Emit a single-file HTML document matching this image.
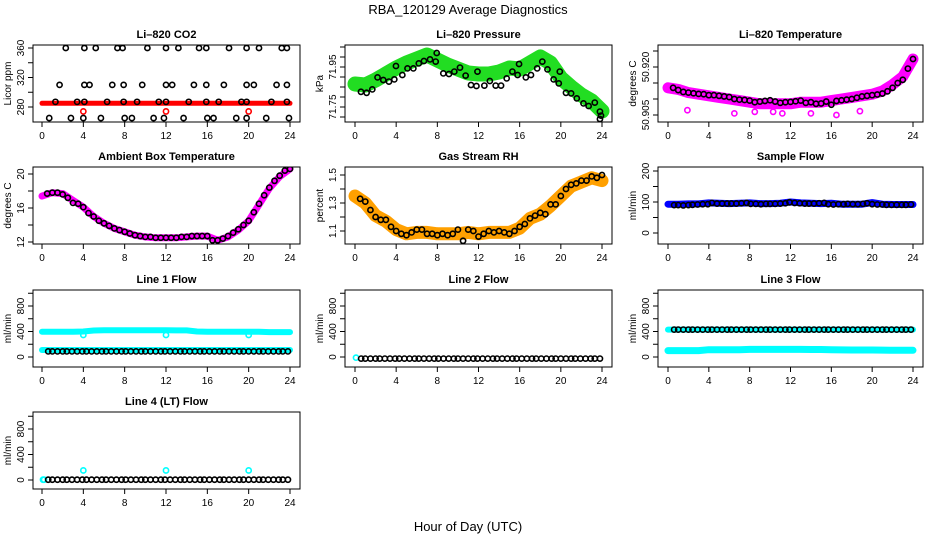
<!DOCTYPE html>
<html><head><meta charset="utf-8">
<style>
html,body{margin:0;padding:0;background:#fff;}
svg{display:block;font-family:"Liberation Sans",Arial,sans-serif;}
</style></head>
<body>
<svg id="chart" width="936" height="540" viewBox="0 0 936 540">
<rect x="0" y="0" width="936" height="540" fill="#fff"/>
<text x="468" y="14" text-anchor="middle" font-size="13">RBA_120129  Average Diagnostics</text>
<text x="468" y="531" text-anchor="middle" font-size="13">Hour of Day (UTC)</text>
</svg>
<script>
// ---------- data ----------
const xTicks = [0,4,8,12,16,20,24];
const bandHours = [0,1,2,3,4,5,6,7,8,9,10,11,12,13,14,15,16,17,18,19,20,21,22,23,24];
const halfHours = [0.5,1,1.5,2,2.5,3,3.5,4,4.5,5,5.5,6,6.5,7,7.5,8,8.5,9,9.5,10,10.5,11,11.5,12,12.5,13,13.5,14,14.5,15,15.5,16,16.5,17,17.5,18,18.5,19,19.5,20,20.5,21,21.5,22,22.5,23,23.5,24];
const flowHours = [0.6,1.0,1.5,2.0,2.4,2.9,3.4,3.9,4.3,4.8,5.3,5.8,6.2,6.7,7.2,7.7,8.1,8.6,9.1,9.6,10.0,10.5,11.0,11.5,11.9,12.4,12.9,13.4,13.8,14.3,14.8,15.3,15.7,16.2,16.7,17.2,17.6,18.1,18.6,19.1,19.5,20.0,20.5,21.0,21.4,21.9,22.4,22.9,23.3,23.8];

// CO2
const co2Band = [285,285,285,285,285,285,285,285,285,285,285,285,285,285,285,285,285,285,285,285,285,285,285,285,285];
const co2RedHours = [4,12,20];
const co2RedVals = [274,274,274];
const co2Hours = [2.3,4.1,5.2,7.3,7.8,10.2,12.0,13.2,15.2,15.9,18.1,19.8,21.0,23.2,23.7, 1.7,4.1,4.6,6.8,7.9,9.7,12.0,12.6,14.7,15.9,17.6,19.8,20.5,22.7,23.7, 1.3,3.4,4.1,6.3,7.9,9.2,11.3,12.0,14.2,15.9,17.1,19.3,19.8,22.2,23.7, 0.7,2.8,4.0,5.7,8.0,8.7,10.8,11.8,13.7,16.0,16.6,18.8,19.8,21.7,23.9];
const co2Vals = [360,360,360,360,360,360,360,360,360,360,360,360,360,360,360, 310,310,310,310,310,310,310,310,310,310,310,310,310,310,310, 287,287,287,287,287,287,287,287,287,287,287,287,287,287,287, 265,265,265,265,265,265,265,265,265,265,265,265,265,265,265];

// Pressure
const presBand = [71.865,71.86,71.885,71.915,71.945,71.97,71.99,72.01,71.985,71.96,71.94,71.92,71.915,71.915,71.925,71.945,71.94,71.97,72.0,71.97,71.895,71.85,71.81,71.78,71.73];
const presHours = [0.58,1.13,1.68,2.19,2.75,3.3,3.82,3.98,4.6,5.1,5.67,6.2,6.7,7.29,7.84,7.94,8.58,9.13,9.65,10.2,10.75,11.27,11.8,11.9,12.57,13.1,13.67,14.19,14.74,15.29,15.8,15.94,16.6,17.1,17.7,18.2,18.7,19.3,19.8,19.9,20.5,21.0,21.55,22.2,22.7,23.3,23.8,23.9,23.8];
const presVals = [71.826,71.821,71.838,71.898,71.885,71.877,71.888,71.955,71.91,71.943,71.943,71.968,71.98,71.988,71.977,72.02,71.918,71.915,71.927,71.947,71.907,71.86,71.855,71.927,71.857,71.88,71.857,71.857,71.893,71.927,71.91,71.965,71.898,71.91,71.943,71.977,71.938,71.888,71.868,71.927,71.821,71.818,71.793,71.768,71.755,71.772,71.727,71.707,71.69];

// Li-820 temperature
const tempBand = [50.9135,50.913,50.912,50.9115,50.911,50.9105,50.9100,50.9095,50.909,50.9085,50.9085,50.9085,50.9085,50.909,50.909,50.909,50.9095,50.910,50.9105,50.911,50.9115,50.9125,50.9145,50.917,50.9225];
const tempPtVals = [50.9135,50.9128,50.9122,50.9120,50.9118,50.9116,50.9115,50.9112,50.9112,50.9110,50.9108,50.9106,50.9100,50.9098,50.9097,50.9095,50.9090,50.9092,50.9094,50.9096,50.9092,50.9088,50.9090,50.9091,50.9093,50.9095,50.9088,50.9090,50.9085,50.9086,50.9092,50.9082,50.9094,50.9096,50.9098,50.9100,50.9104,50.9108,50.9110,50.9112,50.9114,50.9117,50.9124,50.9135,50.9150,50.9160,50.9195,50.9225];
const tempOutHours = [1.9,6.5,8.5,10.3,11.2,14.0,16.5,18.8];
const tempOutVals = [50.9065,50.9055,50.9060,50.9060,50.9055,50.9055,50.9050,50.9062];

// Ambient box temperature
const ambBand = [17.4,17.8,17.7,16.9,16.1,15.0,14.2,13.6,13.2,12.8,12.6,12.5,12.5,12.5,12.6,12.7,12.7,12.2,12.6,13.4,14.5,16.4,18.3,19.7,20.6];
const ambVals = [17.7,17.8,17.8,17.6,17.2,16.6,16.5,16.1,15.4,15.0,14.5,14.2,13.9,13.6,13.4,13.2,13.0,12.8,12.7,12.6,12.6,12.5,12.5,12.5,12.5,12.5,12.6,12.6,12.7,12.7,12.7,12.7,12.2,12.2,12.4,12.7,13.1,13.5,14.0,14.5,15.5,16.5,17.5,18.4,19.2,19.8,20.4,20.6];

// Gas stream RH
const rhBand = [1.35,1.30,1.21,1.17,1.11,1.08,1.09,1.09,1.08,1.08,1.08,1.09,1.08,1.09,1.09,1.09,1.12,1.19,1.22,1.28,1.35,1.42,1.45,1.48,1.46];
const rhVals = [1.33,1.31,1.25,1.20,1.18,1.18,1.13,1.10,1.08,1.07,1.09,1.11,1.11,1.08,1.08,1.07,1.08,1.07,1.08,1.11,1.03,1.11,1.10,1.06,1.08,1.10,1.09,1.10,1.09,1.08,1.10,1.13,1.15,1.19,1.21,1.23,1.22,1.29,1.29,1.35,1.40,1.43,1.44,1.46,1.46,1.49,1.48,1.50];

// Sample flow
const sampBand = [93,93,94,94,97,96,95,96,97,95,95,96,100,97,96,95,96,93,93,93,98,93,92,92,92];
const sampVals = [90,90,89,90,91,92,93,93,97,95,95,95,95,95,96,97,94,94,93,94,94,94,95,96,99,97,96,95,95,95,96,97,93,92,93,93,94,93,93,94,96,93,92,92,91,91,91,91,91,92];

// Line 1 flow
const l1BandHigh = [395,395,395,395,400,415,420,420,420,420,420,420,420,418,418,400,395,395,395,395,395,395,390,390,390];
const l1BandLow = [110,110,110,110,110,110,110,110,110,110,110,110,110,110,110,110,110,110,110,110,110,110,110,110,110];
const l1Vals = [88,88,88,88,88,88,88,88,88,88,88,88,88,88,88,88,88,88,88,88,88,88,88,88,88,88,88,88,88,88,88,88,88,88,88,88,88,88,88,88,88,88,88,88,88,88,88,88,88,88];
const l1DipHours = [4,12,20];
const l1DipVals = [345,345,345];

// Line 2 flow
const l2Vals = [-25,-25,-25,-25,-25,-25,-25,-25,-25,-25,-25,-25,-25,-25,-25,-25,-25,-25,-25,-25,-25,-25,-25,-25,-25,-25,-25,-25,-25,-25,-25,-25,-25,-25,-25,-25,-25,-25,-25,-25,-25,-25,-25,-25,-25,-25,-25,-25,-25,-25];

// Line 3 flow
const l3BandHigh = [430,430,430,430,430,430,430,430,430,430,430,430,430,430,430,430,430,430,430,430,430,430,430,430,430];
const l3BandLow = [100,100,100,100,115,115,115,115,120,120,120,120,120,120,118,118,115,112,110,110,110,108,105,105,105];
const l3Vals = [430,430,430,430,430,430,430,430,430,430,430,430,430,430,430,430,430,430,430,430,430,430,430,430,430,430,430,430,430,430,430,430,430,430,430,430,430,430,430,430,430,430,430,430,430,430,430,430,430,430];

// Line 4 flow
const l4Vals = [5,5,5,5,5,5,5,5,5,5,5,5,5,5,5,5,5,5,5,5,5,5,5,5,5,5,5,5,5,5,5,5,5,5,5,5,5,5,5,5,5,5,5,5,5,5,5,5,5,5];
const l4SpikeHours = [4,12,20];
const l4SpikeVals = [150,150,150];

// ---------- layout ----------
const NS = "http://www.w3.org/2000/svg";
const svg = document.getElementById('chart');
const colL = [33,345,658], colR = [300,612,923], colX0 = [42,355,668], colX24 = [290,602,913];
const rowT = [45,167,290,412], rowB = [122,244,367,489];

function mk(tag, attrs, parent){
  const e = document.createElementNS(NS, tag);
  for (const k in attrs) e.setAttribute(k, attrs[k]);
  (parent||svg).appendChild(e);
  return e;
}

function panel(c, r, title, ylab, vA, pA, vB, pB, yTicks, yLabels, slug){
  const g = mk('g', {});
  
  
  const L = colL[c], R = colR[c], T = rowT[r], B = rowB[r];
  const xs = h => colX0[c] + (colX24[c]-colX0[c]) * h / 24;
  const ys = v => T + pA + (v - vA) * (pB - pA) / (vB - vA);
  const clip = mk('clipPath', {id: 'clip-' + slug}, g);
  mk('rect', {x: L, y: T, width: R-L, height: B-T}, clip);
  const plot = mk('g', {'clip-path': 'url(#clip-' + slug + ')'}, g);
  
  
  const box = mk('rect', {x: L, y: T, width: R-L, height: B-T, fill: 'none', stroke: '#000', 'stroke-width': 1}, g);
  
  
  const t = mk('text', {x: (L+R)/2, y: T - 7, 'text-anchor': 'middle', 'font-size': 11, 'font-weight': 'bold'}, g);
  t.textContent = title;
  
  
  const xa = mk('g', {}, g);
  
  
  xTicks.forEach(v => {
    const x = xs(v);
    mk('line', {x1: x, x2: x, y1: B, y2: B + 5, stroke: '#000'}, xa);
    const tl = mk('text', {x: x, y: B + 17, 'text-anchor': 'middle', 'font-size': 10}, xa);
    tl.textContent = v;
    
    
  });
  const ya = mk('g', {}, g);
  
  
  yTicks.forEach(v => {
    const y = ys(v);
    mk('line', {x1: L - 5, x2: L, y1: y, y2: y, stroke: '#000'}, ya);
  });
  yLabels.forEach(v => {
    const y = ys(v);
    const tl = mk('text', {x: L - 9, y: y, 'text-anchor': 'middle', 'font-size': 10, transform: 'rotate(-90 ' + (L-9) + ' ' + y + ')'}, ya);
    tl.textContent = v;
    
    
  });
  const yl = mk('text', {x: L - 22, y: (T+B)/2, 'text-anchor': 'middle', 'font-size': 10, transform: 'rotate(-90 ' + (L-22) + ' ' + ((T+B)/2) + ')'}, g);
  yl.textContent = ylab;
  
  
  return {plot, xs, ys};
}

function band(p, hours, vals, color, w, name){
  const d = hours.map((h,i) => (i ? 'L' : 'M') + p.xs(h).toFixed(1) + ' ' + p.ys(vals[i]).toFixed(1)).join(' ');
  const e = mk('path', {d: d, fill: 'none', stroke: color, 'stroke-width': w, 'stroke-linejoin': 'round', 'stroke-linecap': 'round'}, p.plot);
  
  
}
function pts(p, hours, vals, color, name, r){
  const g = mk('g', {}, p.plot);
  
  
  hours.forEach((h,i) => {
    const e = mk('circle', {cx: p.xs(h), cy: p.ys(vals[i]), r: r||2.6, fill: 'none', stroke: color, 'stroke-width': 1.6}, g);
    
    
  });
}

// Row 1
let p = panel(0,0,'Li\u2013820 CO2','Licor ppm',280,62,360,3,[280,300,320,340,360],[280,320,360],'co2');
band(p, bandHours, co2Band, '#ff0000', 5, 'co2-red-band');
pts(p, co2RedHours, co2RedVals, '#ff0000', 'co2-red-points');
pts(p, co2Hours, co2Vals, '#000', 'co2-black-points');

p = panel(1,0,'Li\u2013820 Pressure','kPa',71.95,22,71.75,62,[71.70,71.75,71.80,71.85,71.90,71.95,72.00,72.05],['71.75','71.95'],'pressure');
band(p, bandHours, presBand, '#22dd22', 15, 'pressure-green-band');
pts(p, presHours, presVals, '#000', 'pressure-black-points');

p = panel(2,0,'Li\u2013820 Temperature','degrees C',50.920,22,50.905,70,[50.905,50.910,50.915,50.920,50.925],['50.905','50.920'],'li820-temp');
band(p, bandHours, tempBand, '#ff00ff', 11, 'temp-magenta-band');
pts(p, tempOutHours, tempOutVals, '#ff00ff', 'temp-magenta-points');
pts(p, halfHours, tempPtVals, '#000', 'temp-black-points');

// Row 2
p = panel(0,1,'Ambient Box Temperature','degrees C',20,7,12,75,[12,14,16,18,20],[12,16,20],'ambient');
band(p, bandHours, ambBand, '#ff00ff', 7, 'ambient-magenta-band');
pts(p, halfHours, ambVals, '#000', 'ambient-black-points');

p = panel(1,1,'Gas Stream RH','percent',1.5,8,1.1,64,[1.1,1.2,1.3,1.4,1.5],['1.1','1.3','1.5'],'rh');
band(p, bandHours, rhBand, '#ffa000', 13, 'rh-orange-band');
pts(p, halfHours, rhVals, '#000', 'rh-black-points');

p = panel(2,1,'Sample Flow','ml/min',200,4,0,66,[0,50,100,150,200],[0,100,200],'sample-flow');
band(p, bandHours, sampBand, '#0000ff', 7, 'sample-blue-band');
pts(p, flowHours, sampVals, '#000', 'sample-black-points');

// Row 3
const fT = [0,200,400,600,800,1000], fL = [0,400,800];
p = panel(0,2,'Line 1 Flow','ml/min',0,67,800,16,fT,fL,'line1');
band(p, bandHours, l1BandHigh, '#00ffff', 6, 'line1-cyan-high');
band(p, bandHours, l1BandLow, '#00ffff', 6, 'line1-cyan-low');
pts(p, l1DipHours, l1DipVals, '#00ffff', 'line1-cyan-points');
pts(p, flowHours, l1Vals, '#000', 'line1-black-points');

p = panel(1,2,'Line 2 Flow','ml/min',0,67,800,16,fT,fL,'line2');
pts(p, [0.1], [-10], '#00ffff', 'line2-cyan-points');
pts(p, flowHours, l2Vals, '#000', 'line2-black-points');

p = panel(2,2,'Line 3 Flow','ml/min',0,67,800,16,fT,fL,'line3');
band(p, bandHours, l3BandHigh, '#00ffff', 6, 'line3-cyan-high');
band(p, bandHours, l3BandLow, '#00ffff', 7, 'line3-cyan-low');
pts(p, flowHours, l3Vals, '#000', 'line3-black-points');

// Row 4
p = panel(0,3,'Line 4 (LT) Flow','ml/min',0,68,800,17,fT,fL,'line4');
pts(p, [0.1,0.2], [5,5], '#00ffff', 'line4-cyan-base');
pts(p, l4SpikeHours, l4SpikeVals, '#00ffff', 'line4-cyan-points');
pts(p, flowHours, l4Vals, '#000', 'line4-black-points');
</script>
</body></html>
